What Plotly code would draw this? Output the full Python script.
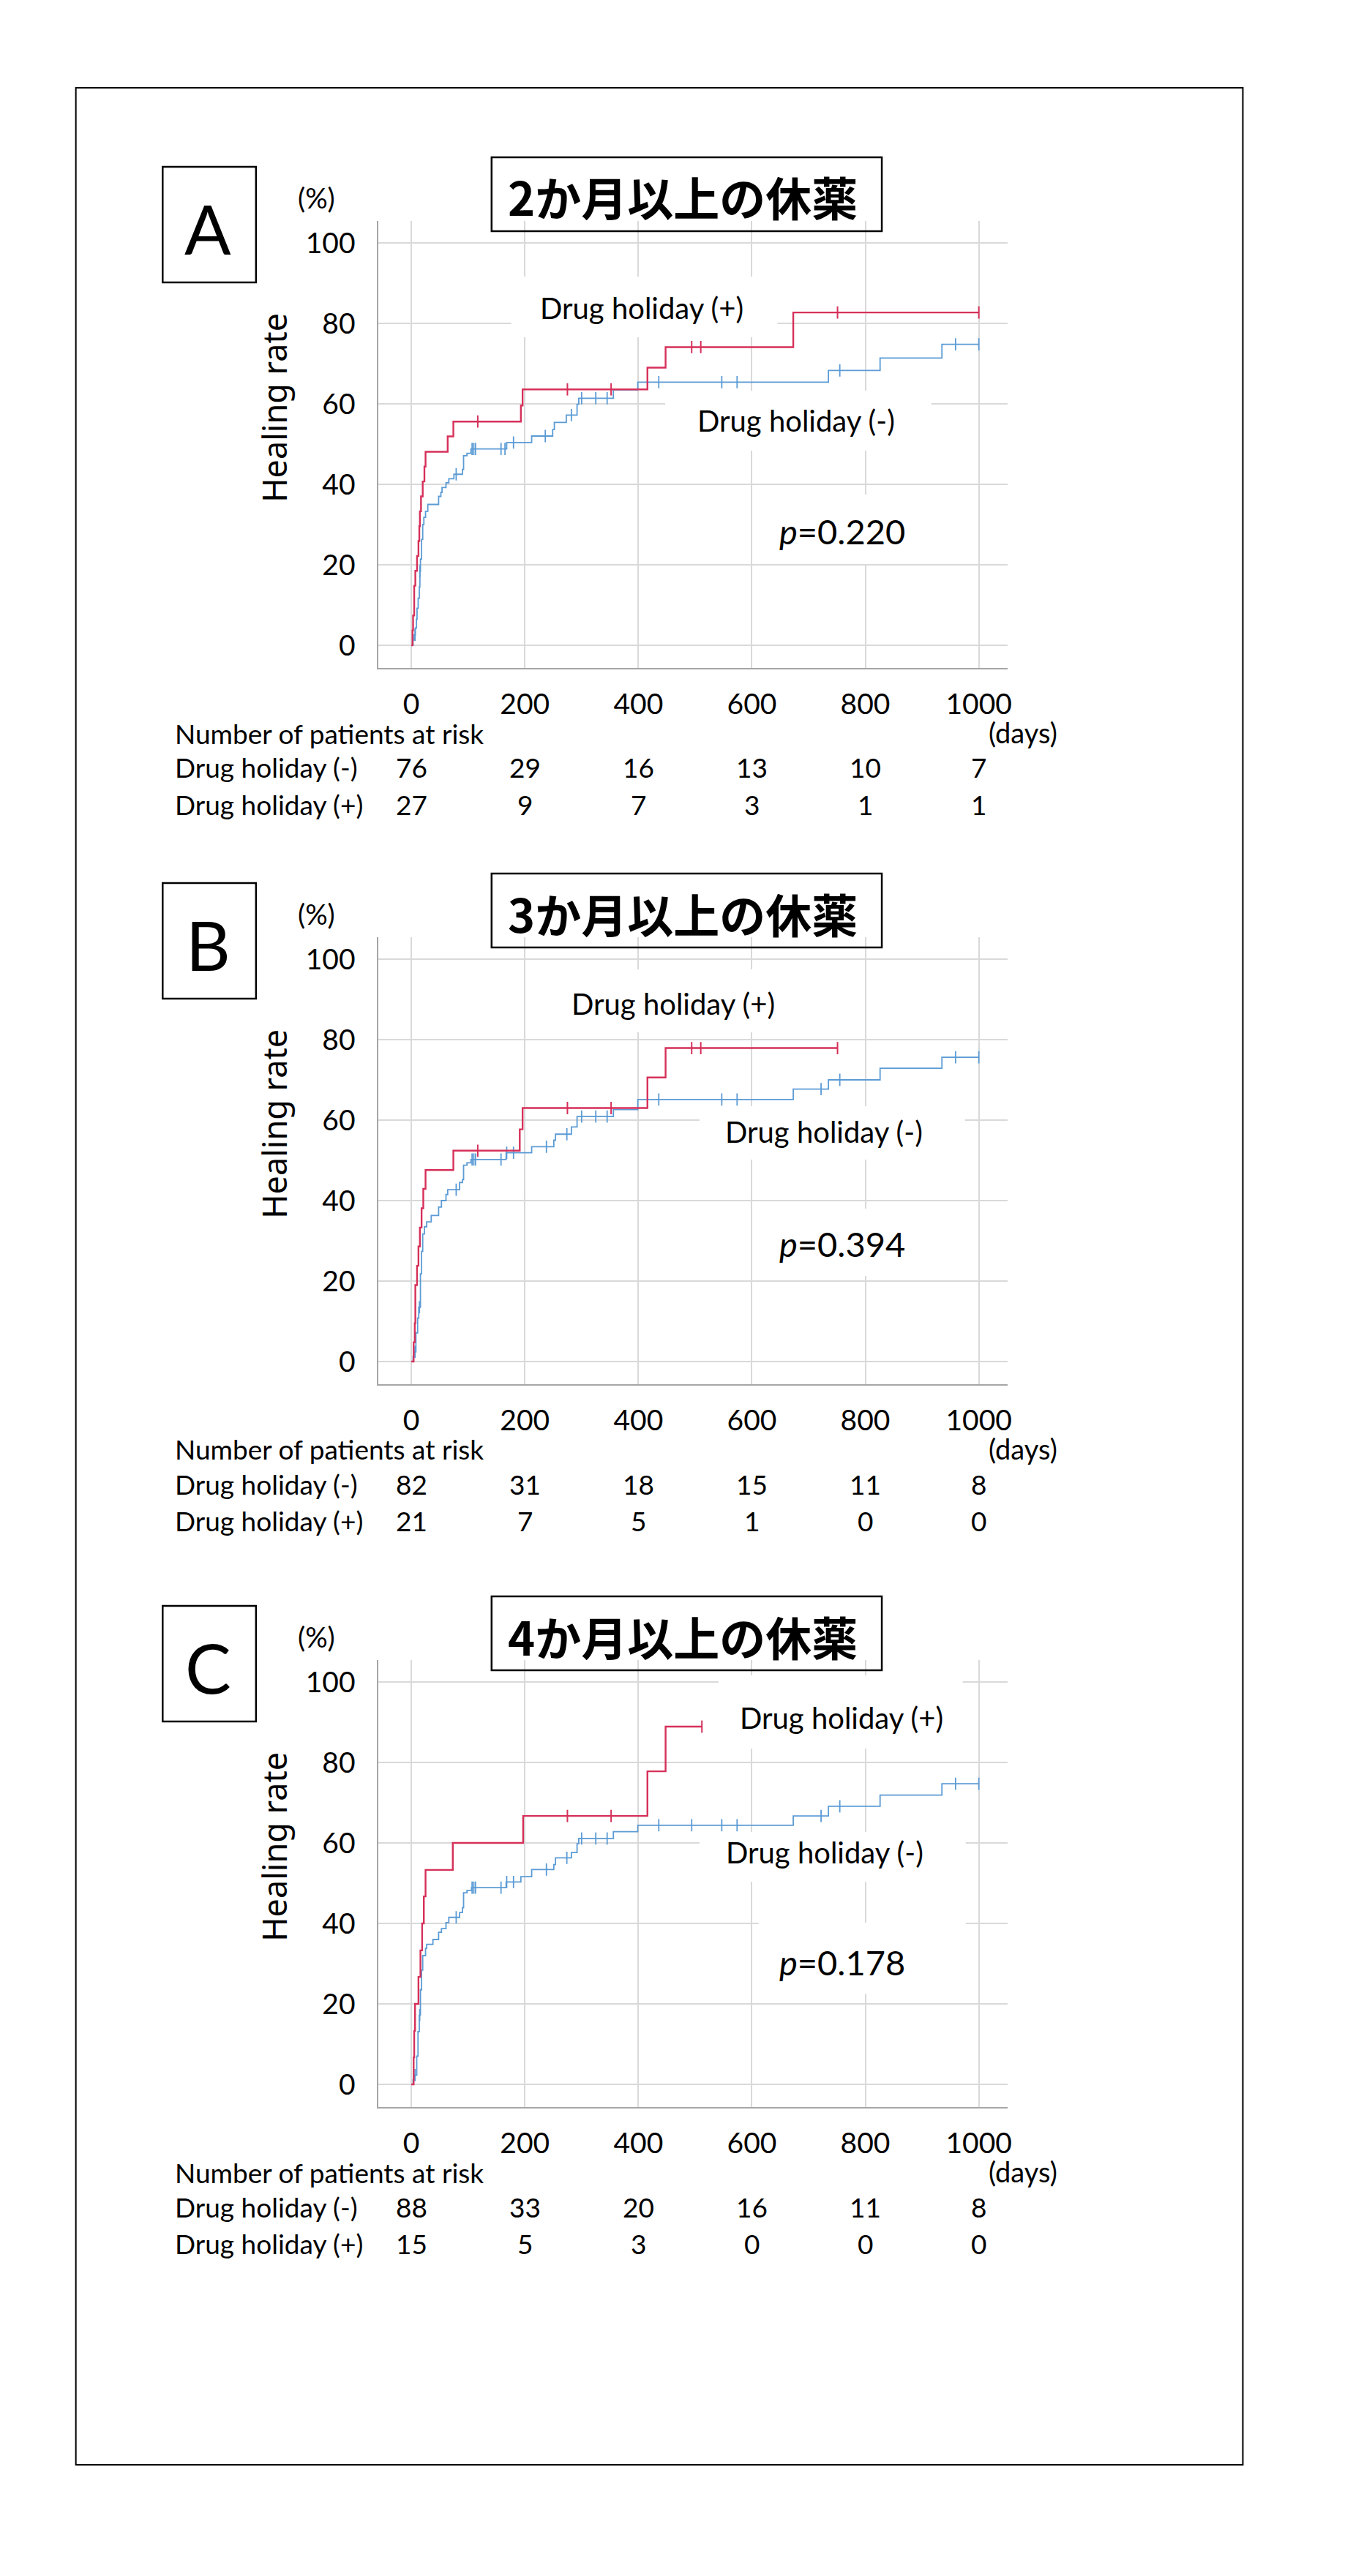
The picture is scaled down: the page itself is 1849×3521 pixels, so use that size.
import numpy as np
import plotly.graph_objects as go

W, H = 1849, 3521

# ---------------- data ----------------
panel_letters = ["A", "B", "C"]
panel_titles = ["2か月以上の休薬", "3か月以上の休薬", "4か月以上の休薬"]
p_texts = ["0.220", "0.394", "0.178"]
x_ticks = [0, 200, 400, 600, 800, 1000]
y_ticks = [0, 20, 40, 60, 80, 100]
risk_times = [0, 200, 400, 600, 800, 1000]

# Panel A  (2 months)
A_pos_time = [0, 2, 3, 5, 7, 10, 12.5, 14, 15, 17, 20, 23, 25, 64, 74, 193, 196, 416, 448, 673]
A_pos_rate = [0, 3.7, 7.4, 14.8, 18.5, 22.2, 25.9, 29.6, 33.3, 37.0, 40.7, 44.4, 48.1, 51.9, 55.6, 59.6, 63.6, 69.0, 74.1, 82.7]
A_pos_censor = [117, 275, 352, 494, 510, 751, 1000]
A_pos_last = 1000
A_neg_time = [0, 3, 5, 7, 9, 10, 12, 14, 15, 16, 18, 20, 22, 25, 29, 48, 52, 54, 61, 66, 75, 90, 92, 98, 105,
              168, 212, 249, 252, 273, 292, 295, 356, 399, 735, 826, 935]
A_neg_rate = [0, 1.3, 2.6, 4.3, 6.5, 9.2, 11.7, 14.5, 18.4, 21.4, 26.3, 30.0, 31.8, 33.3, 35.0, 37.0, 38.0, 39.2, 40.4,
              41.4, 42.5, 43.7, 47.1, 47.7, 48.8, 50.4, 52.0, 53.6, 55.4, 57.2, 59.9, 61.4, 63.5, 65.4, 68.3, 71.4, 74.8]
A_neg_censor = [6.5, 15, 79, 107, 110, 113, 158, 165, 180, 236, 282, 300, 325, 345, 436, 547, 574, 755, 959, 1000]
A_neg_last = 1000

# Panel B  (3 months)
B_pos_time = [0, 4, 6, 7, 10, 12.5, 15, 18, 21, 25, 74, 191, 196, 416, 448]
B_pos_rate = [0, 4.8, 9.5, 19.0, 23.8, 28.6, 33.3, 38.1, 42.9, 47.6, 52.4, 57.7, 63.0, 70.6, 77.9]
B_pos_censor = [117, 275, 352, 494, 510, 751]
B_pos_last = 751
B_neg_time = [0, 3, 5, 8, 11, 13, 16, 18, 20, 23, 27, 35, 48, 53, 61, 64, 85, 90, 92, 98, 105, 167, 212, 251, 254,
              282, 292, 356, 399, 673, 735, 826, 935]
B_neg_rate = [0, 1.2, 2.4, 7.1, 10.8, 13.5, 21.8, 27.4, 31.7, 33.5, 34.7, 36.3, 38.4, 40.0, 41.5, 42.7, 44.5, 45.2,
              48.8, 49.4, 50.2, 51.9, 53.4, 55.0, 56.5, 58.3, 60.9, 62.6, 65.1, 67.7, 70.0, 72.9, 75.6]
B_neg_censor = [6.5, 14.3, 79, 107, 110, 113, 158, 168, 180, 238, 274, 300, 325, 345, 436, 547, 574, 722, 755, 959, 1000]
B_neg_last = 1000

# Panel C  (4 months)
C_pos_time = [0, 4, 5, 6.5, 12.5, 16, 19, 22, 25, 73, 197, 416, 448]
C_pos_rate = [0, 6.7, 13.3, 20.0, 26.7, 33.3, 40.0, 46.7, 53.3, 60.0, 66.7, 77.8, 88.9]
C_pos_censor = [275, 352, 512]
C_pos_last = 512
C_neg_time = [0, 3, 5, 9.5, 11.7, 14, 16, 18, 20, 25, 27, 38, 48, 53, 61, 66, 85, 90, 92, 98, 106, 167, 193, 212, 251,
              254, 282, 292, 295, 356, 399, 673, 735, 826, 935]
C_neg_rate = [0, 1.1, 2.3, 7.0, 13.1, 17.2, 23.5, 28.4, 32.0, 33.8, 34.8, 36.0, 37.8, 38.7, 40.2, 41.5, 42.7, 43.9,
              47.6, 48.2, 48.9, 50.3, 51.6, 53.4, 54.6, 56.3, 57.6, 59.8, 61.1, 62.8, 64.4, 66.7, 69.1, 71.9, 74.7]
C_neg_censor = [6.5, 14.7, 79, 107, 110, 113, 158, 168, 180, 238, 274, 300, 325, 345, 436, 494, 547, 574, 722, 755, 959, 1000]
C_neg_last = 1000

risk_A_neg = [76, 29, 16, 13, 10, 7]
risk_A_pos = [27, 9, 7, 3, 1, 1]
risk_B_neg = [82, 31, 18, 15, 11, 8]
risk_B_pos = [21, 7, 5, 1, 0, 0]
risk_C_neg = [88, 33, 20, 16, 11, 8]
risk_C_pos = [15, 5, 3, 0, 0, 0]

panels_data = [
    (A_pos_time, A_pos_rate, A_pos_censor, A_pos_last, A_neg_time, A_neg_rate, A_neg_censor, A_neg_last, risk_A_neg, risk_A_pos),
    (B_pos_time, B_pos_rate, B_pos_censor, B_pos_last, B_neg_time, B_neg_rate, B_neg_censor, B_neg_last, risk_B_neg, risk_B_pos),
    (C_pos_time, C_pos_rate, C_pos_censor, C_pos_last, C_neg_time, C_neg_rate, C_neg_censor, C_neg_last, risk_C_neg, risk_C_pos),
]

# ---------------- style / layout ----------------
RED = "#D6305A"
BLUE = "#5B9BD5"
LATIN = "Lato"
CJK = "Noto Sans CJK JP"
offsets = [0, 979, 1967]

# label positions (pixel coords, relative to panel A frame)
lab_pos = [
    dict(plus=(880, 421), plus_box=(701, 1066, 378, 461),
         minus=(1092, 575), minus_box=(912, 1277, 534, 616),
         p=(1155, 726), p_box=(1037, 1319, 676, 771)),
    dict(plus=(923, 393), plus_box=(740, 1100, 346, 432),
         minus=(1130, 568), minus_box=(959, 1323, 533, 606),
         p=(1155, 721), p_box=(1040, 1323, 673, 765)),
    dict(plus=(1154, 381), plus_box=(985, 1320, 323, 423),
         minus=(1131, 565), minus_box=(959, 1324, 537, 605),
         p=(1155, 715), p_box=(1040, 1324, 661, 758)),
]


def px(x):
    return x / W


def py(y):
    return 1 - y / H


def step_at(times, rates, t):
    i = np.searchsorted(np.asarray(times, float), t, side="right") - 1
    return np.asarray(rates, float)[i]


fig = go.Figure()
shapes = []
annotations = []

# outer frame
shapes.append(dict(type="rect", xref="paper", yref="paper", x0=px(104), x1=px(1704),
                   y0=py(3369), y1=py(120), line=dict(color="black", width=2)))

X0_PX, X1_PX = 519, 1381
XZERO_PX, X1000_PX = 564, 1342
Y0_PX, Y100_PX = 882, 332
AX_TOP, AX_BOT = 302, 913
xr = [(X0_PX - XZERO_PX) / ((X1000_PX - XZERO_PX) / 1000), (X1_PX - XZERO_PX) / ((X1000_PX - XZERO_PX) / 1000)]
yr = [(Y0_PX - AX_BOT) / ((Y0_PX - Y100_PX) / 100), (Y0_PX - AX_TOP) / ((Y0_PX - Y100_PX) / 100)]

for k in range(3):
    off = offsets[k]
    sfx = "" if k == 0 else str(k + 1)
    xname, yname = "x" + sfx, "y" + sfx
    (pt, pr, pc, plast, nt, nr, nc, nlast, rneg, rpos) = panels_data[k]

    # curves
    fig.add_trace(go.Scatter(x=list(nt) + [nlast], y=list(nr) + [nr[-1]], mode="lines",
                             line=dict(color=BLUE, width=1.8, shape="hv"),
                             xaxis=xname, yaxis=yname, showlegend=False, hoverinfo="skip"))
    fig.add_trace(go.Scatter(x=nc, y=[step_at(nt, nr, c) for c in nc], mode="markers",
                             marker=dict(symbol="line-ns", size=12, line=dict(color=BLUE, width=1.8)),
                             xaxis=xname, yaxis=yname, showlegend=False, hoverinfo="skip"))
    fig.add_trace(go.Scatter(x=list(pt) + [plast], y=list(pr) + [pr[-1]], mode="lines",
                             line=dict(color=RED, width=2.4, shape="hv"),
                             xaxis=xname, yaxis=yname, showlegend=False, hoverinfo="skip"))
    fig.add_trace(go.Scatter(x=pc, y=[step_at(pt, pr, c) for c in pc], mode="markers",
                             marker=dict(symbol="line-ns", size=12, line=dict(color=RED, width=2)),
                             xaxis=xname, yaxis=yname, showlegend=False, hoverinfo="skip"))

    fig.update_layout(**{
        "xaxis" + sfx: dict(domain=[px(X0_PX), px(X1_PX)], range=xr, anchor=yname,
                            tickvals=x_ticks, showgrid=True, gridcolor="#d9d9d9", gridwidth=2,
                            zeroline=False, showline=True, linecolor="#a6a6a6", linewidth=2,
                            ticks="", ticklabelstandoff=14,
                            tickfont=dict(family=LATIN, size=39, color="black"), fixedrange=True),
        "yaxis" + sfx: dict(domain=[py(AX_BOT + off), py(AX_TOP + off)], range=yr, anchor=xname,
                            tickvals=y_ticks, showgrid=True, gridcolor="#d9d9d9", gridwidth=2,
                            zeroline=False, showline=True, linecolor="#a6a6a6", linewidth=2,
                            ticks="", ticklabelstandoff=22,
                            tickfont=dict(family=LATIN, size=39, color="black"), fixedrange=True),
    })

    # letter box
    shapes.append(dict(type="rect", xref="paper", yref="paper", x0=px(223), x1=px(351),
                       y0=py(386 + off), y1=py(228 + off), line=dict(color="black", width=2.5)))
    annotations.append(dict(text=panel_letters[k], x=px(285), y=py(311 + off), xref="paper", yref="paper",
                            showarrow=False, xanchor="center", yanchor="middle",
                            font=dict(family=LATIN, size=94, color="black")))
    # title box
    shapes.append(dict(type="rect", xref="paper", yref="paper", x0=px(674), x1=px(1209),
                       y0=py(316 + off), y1=py(215 + off), line=dict(color="black", width=2.5)))
    annotations.append(dict(text=panel_titles[k], x=px(936), y=py(268 + off), xref="paper", yref="paper",
                            showarrow=False, xanchor="center", yanchor="middle",
                            font=dict(family=CJK, size=63, color="black", weight="bold")))
    # (%)
    annotations.append(dict(text="(%)", x=px(434), y=py(270 + off), xref="paper", yref="paper",
                            showarrow=False, xanchor="center", yanchor="middle",
                            font=dict(family=LATIN, size=38, color="black")))
    # y title
    annotations.append(dict(text="Healing rate", x=px(375), y=py(557 + off), xref="paper", yref="paper",
                            showarrow=False, xanchor="center", yanchor="middle", textangle=-90,
                            font=dict(family="Noto Sans", size=45, color="black")))
    # white label boxes + labels
    lp = lab_pos[k]
    for key, txt, fsz in (("plus", "Drug holiday (+)", 40), ("minus", "Drug holiday (-)", 40),
                          ("p", "<i>p</i>=" + p_texts[k], 47)):
        bx = lp[key + "_box"]
        shapes.append(dict(type="rect", xref="paper", yref="paper", layer="above",
                           x0=px(bx[0]), x1=px(bx[1]), y0=py(bx[3] + off), y1=py(bx[2] + off),
                           fillcolor="white", line=dict(width=0)))
        cx, cy = lp[key]
        annotations.append(dict(text=txt, x=px(cx), y=py(cy + off), xref="paper", yref="paper",
                                showarrow=False, xanchor="center", yanchor="middle",
                                font=dict(family=LATIN, size=fsz, color="black")))
    # (days)
    annotations.append(dict(text="(days)", x=px(1403), y=py(1001 + off), xref="paper", yref="paper",
                            showarrow=False, xanchor="center", yanchor="middle",
                            font=dict(family=LATIN, size=38, color="black")))
    # risk table
    annotations.append(dict(text="Number of patients at risk", x=px(238), y=py(1002 + off),
                            xref="paper", yref="paper", showarrow=False, xanchor="left", yanchor="middle",
                            font=dict(family=LATIN, size=37, color="black")))
    for row_y, row_lab, vals in ((1049, "Drug holiday (-)", rneg), (1099, "Drug holiday (+)", rpos)):
        annotations.append(dict(text=row_lab, x=px(238), y=py(row_y + off), xref="paper", yref="paper",
                                showarrow=False, xanchor="left", yanchor="middle",
                                font=dict(family=LATIN, size=37, color="black")))
        for t, v in zip(risk_times, vals):
            annotations.append(dict(text=str(v), x=t, y=py(row_y + off), xref=xname, yref="paper",
                                    showarrow=False, xanchor="center", yanchor="middle",
                                    font=dict(family=LATIN, size=37, color="black")))

fig.update_layout(width=W, height=H, autosize=False, margin=dict(l=0, r=0, t=0, b=0),
                  paper_bgcolor="white", plot_bgcolor="white", showlegend=False,
                  shapes=shapes, annotations=annotations)

fig.write_html("out.html", config={"displayModeBar": False},
               post_script="document.body.style.margin='0';document.body.style.padding='0';")
